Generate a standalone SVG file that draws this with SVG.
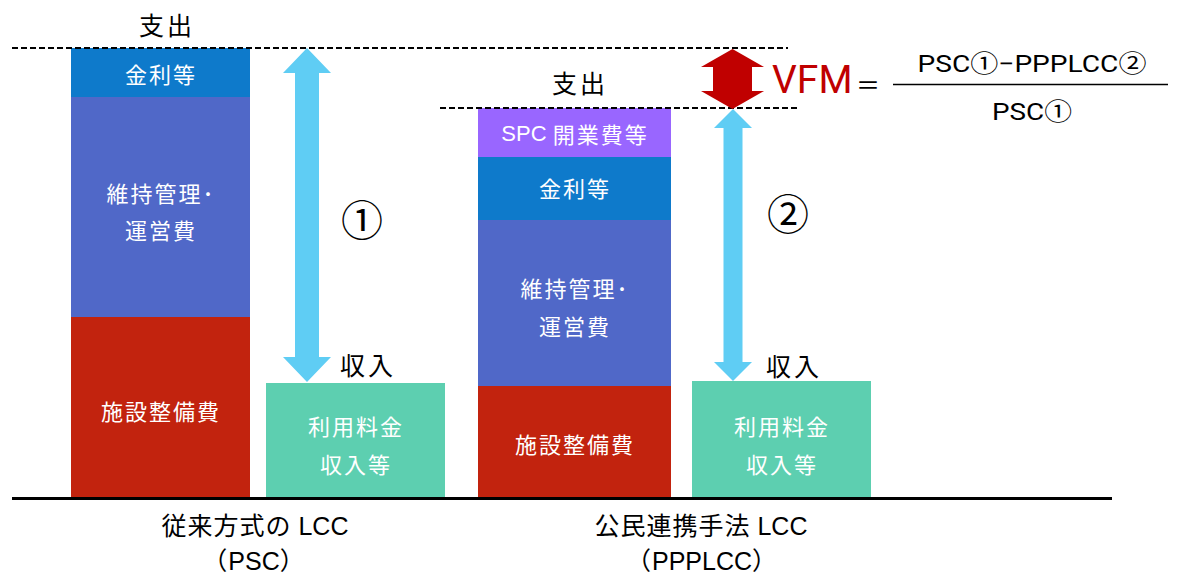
<svg xmlns="http://www.w3.org/2000/svg" width="1179" height="579" viewBox="0 0 1179 579">
<style>
text{font-family:"Noto Sans CJK JP","Noto Sans",sans-serif;text-anchor:middle;dominant-baseline:central}
.w{fill:#fff;font-size:22px;letter-spacing:2px}
.k{fill:#000;font-size:25px;letter-spacing:3px}
.b{fill:#000;font-size:25px;letter-spacing:1px;font-family:"Liberation Sans","Noto Sans CJK JP",sans-serif}
.lat{font-family:"Liberation Sans",Arial,sans-serif;letter-spacing:0}
.f{fill:#000;font-size:24px;font-family:Roboto,"Noto Sans CJK JP",sans-serif}
.dash{stroke:#000;stroke-width:2.2;stroke-dasharray:6 3;fill:none}
.blue{fill:#5FCDF4}
</style>
<rect width="1179" height="579" fill="#fff"/>
<g id="psc-kinri"><rect x="71" y="48" width="179" height="49" fill="#0E7ACB"/><text class="w" x="161" y="73">金利等</text></g>
<g id="psc-iji"><rect x="71" y="97" width="179" height="220" fill="#5068C8"/><text class="w" x="161" y="192">維持管理･</text><text class="w" x="161" y="229">運営費</text></g>
<g id="psc-shisetsu"><rect x="71" y="317" width="179" height="181" fill="#C2230E"/><text class="w" x="161" y="410">施設整備費</text></g>
<g id="psc-income"><rect x="266" y="383" width="179" height="115" fill="#5DCFB0"/><text class="w" x="356" y="425">利用料金</text><text class="w" x="356" y="463">収入等</text></g>
<g id="ppp-spc"><rect x="478" y="108" width="193" height="49" fill="#9966FF"/><text class="w" x="575" y="133"><tspan class="lat">SPC </tspan>開業費等</text></g>
<g id="ppp-kinri"><rect x="478" y="157" width="193" height="63" fill="#0E7ACB"/><text class="w" x="575" y="187">金利等</text></g>
<g id="ppp-iji"><rect x="478" y="220" width="193" height="166" fill="#5068C8"/><text class="w" x="575" y="287">維持管理･</text><text class="w" x="575" y="325">運営費</text></g>
<g id="ppp-shisetsu"><rect x="478" y="386" width="193" height="112" fill="#C2230E"/><text class="w" x="575" y="443">施設整備費</text></g>
<g id="ppp-income"><rect x="692" y="381" width="179" height="117" fill="#5DCFB0"/><text class="w" x="782" y="425">利用料金</text><text class="w" x="782" y="463">収入等</text></g>
<g id="connectors">
<line class="dash" x1="12" y1="48" x2="788" y2="48"/>
<line class="dash" x1="440" y1="108" x2="797" y2="108"/>
<line x1="12" y1="498.5" x2="1112" y2="498.5" stroke="#000" stroke-width="3"/>
<polygon class="blue" points="307,48 331,73 319,73 319,357 331,357 307,382 283,357 295,357 295,73 283,73"/>
<polygon class="blue" points="733,109 752,128 742.5,128 742.5,362 752,362 733,381 714,362 723.5,362 723.5,128 714,128"/>
<polygon fill="#C00000" points="732.5,49 764,67 752,67 752,91 764,91 732.5,109 701,91 713,91 713,67 701,67"/>
<line x1="893" y1="84.5" x2="1168" y2="84.5" stroke="#000" stroke-width="1.5"/>
</g>
<g id="labels">
<text class="k" x="167" y="24">支出</text>
<text class="k" x="580" y="82">支出</text>
<text class="k" x="368" y="364">収入</text>
<text class="k" x="794" y="365">収入</text>
<text x="362" y="217" font-size="42" fill="#000">①</text>
<text x="788" y="211" font-size="42" fill="#000">②</text>
<text x="772" y="80" font-size="39" fill="#C00000" style="text-anchor:start;font-family:Roboto,'Noto Sans',sans-serif">VFM</text>
<text x="868" y="83" font-size="24" fill="#000">＝</text>
<text class="f" x="1032" y="64" textLength="229" lengthAdjust="spacingAndGlyphs">PSC①−PPPLCC②</text>
<text class="f" x="1032" y="112" textLength="80" lengthAdjust="spacingAndGlyphs">PSC①</text>
<text class="b" x="255" y="526">従来方式の<tspan class="lat"> LCC</tspan></text>
<text class="b" x="254" y="561">（<tspan class="lat">PSC</tspan>）</text>
<text class="b" x="701" y="526">公民連携手法<tspan class="lat"> LCC</tspan></text>
<text class="b" x="702" y="561">（<tspan class="lat">PPPLCC</tspan>）</text>
</g>
</svg>
